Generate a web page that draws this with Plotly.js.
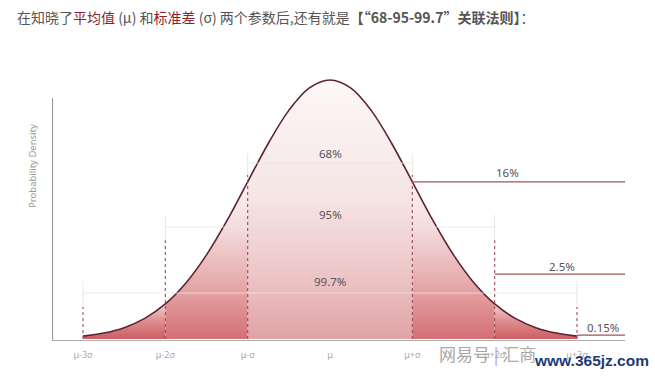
<!DOCTYPE html>
<html>
<head>
<meta charset="utf-8">
<script src="https://cdn.plot.ly/plotly-3.0.1.min.js"></script>
<style>html,body{margin:0;padding:0;background:#fff;}#chart{width:655px;height:376px;}</style>
</head>
<body>
<div id="chart"></div>
<script>
// ---- data ----
const xSigma = [-3,-2.75,-2.5,-2.25,-2,-1.75,-1.5,-1.25,-1,-0.75,-0.5,-0.25,0,0.25,0.5,0.75,1,1.25,1.5,1.75,2,2.25,2.5,2.75,3];
const density = [0.0044,0.0091,0.0175,0.0317,0.0540,0.0863,0.1295,0.1826,0.2420,0.3011,0.3521,0.3867,0.3989,0.3867,0.3521,0.3011,0.2420,0.1826,0.1295,0.0863,0.0540,0.0317,0.0175,0.0091,0.0044];
const tickVals = [-3,-2,-1,0,1,2,3];
const tickText = ['μ-3σ','μ-2σ','μ-σ','μ','μ+σ','μ+2σ','μ+3σ'];
const bandSigma = [1,2,3];
const bandLabels = ['68%','95%','99.7%'];
const bandLabelY = [0.286,0.191,0.0893];
const bandBracketY = [0.271,0.1725,0.0708];
const bandBracketTop = [0.286,0.191,0.0893];
const dashTop = [0.2526,0.152,0.0493];
const tailLabels = ['16%','2.5%','0.15%'];
const tailLineY = [0.242,0.100,0.006];
const tailLabelY = [0.256,0.111,0.017];
const tailLabelX = [2.16,2.82,3.31];

// ---- styles ----
const XR = [-3.3765, 3.583];
const YR = [-0.00154, 0.4143];
const grads = {
  tail2: {top:0.055, cs:[[0,'#cc5d62'],[0.5,'#dd8d90'],[1,'#f3d6d7']]},
  tail1: {top:0.245, cs:[[0,'#d46f73'],[0.35,'#e6aaac'],[0.7,'#f4dcdc'],[1,'#fcf3f3']]},
  center:{top:0.40, cs:[[0,'#e0a3a6'],[0.25,'#edc6c7'],[0.55,'#f6e5e5'],[1,'#fdf8f8']]}
};
function idx(v){ return xSigma.indexOf(v); }
function seg(a,b){ const i=idx(a), j=idx(b); return {x:xSigma.slice(i,j+1), y:density.slice(i,j+1)}; }
const segments = [[-3,-2,'tail2'],[-2,-1,'tail1'],[-1,1,'center'],[1,2,'tail1'],[2,3,'tail2']];
const traces = segments.map(([a,b,k]) => {
  const s = seg(a,b); const g = grads[k];
  return {x:s.x, y:s.y, type:'scatter', mode:'lines', line:{width:0, shape:'spline'},
    fill:'tozeroy', fillcolor:g.cs[1][1],
    fillgradient:{type:'vertical', start:0, stop:g.top, colorscale:g.cs},
    hoverinfo:'skip', showlegend:false};
});
traces.push({x:xSigma, y:density, type:'scatter', mode:'lines',
  line:{color:'#5a2430', width:1.6, shape:'spline'}, hoverinfo:'skip', showlegend:false});

const shapes = [];
const ann = [];
const light = '#e9e6e6';
bandSigma.forEach((s,i) => {
  shapes.push({type:'line', xref:'x', yref:'y', x0:-s, x1:s, y0:bandBracketY[i], y1:bandBracketY[i], line:{color:light, width:1}, layer:'above', opacity:0.8});
  [-s,s].forEach(xv => {
    shapes.push({type:'line', xref:'x', yref:'y', x0:xv, x1:xv, y0:bandBracketTop[i], y1:dashTop[i], line:{color:light, width:1}, layer:'above'});
    shapes.push({type:'line', xref:'x', yref:'y', x0:xv, x1:xv, y0:0, y1:dashTop[i], line:{color:'#9b4a55', width:1.1, dash:'3px,3px'}, layer:'above'});
  });
  ann.push({x:0, y:bandLabelY[i], xref:'x', yref:'y', text:bandLabels[i], showarrow:false, font:{family:'Noto Sans', size:11.5, color:'#555'}});
  shapes.push({type:'line', xref:'x', yref:'y', x0:s, x1:XR[1], y0:tailLineY[i], y1:tailLineY[i], line:{color:'#a4525b', width:1.3}, layer:'above'});
  ann.push({x:tailLabelX[i], y:tailLabelY[i], xref:'x', yref:'y', text:tailLabels[i], showarrow:false, font:{family:'Noto Sans', size:11.5, color:'#555'}});
});
// y axis line
shapes.push({type:'line', xref:'x', yref:'y', x0:XR[0]+0.006, x1:XR[0]+0.006, y0:YR[0], y1:0.371, line:{color:'#9a9a9a', width:1.2}, layer:'above'});

ann.push({xref:'paper', yref:'paper', x:-0.033, y:0.645, xanchor:'center', yanchor:'middle', textangle:-90,
  text:'Probability Density', showarrow:false, font:{family:'Noto Sans', size:9.5, color:'#999'}});
ann.push({xref:'paper', yref:'paper', x:-0.065, y:1.196, xanchor:'left', yanchor:'middle', showarrow:false,
  text:'在知晓了<span style="color:#8d1f2a">平均值</span> (μ) 和<span style="color:#8d1f2a">标准差</span> (σ) 两个参数后,还有就是<b>【“68-95-99.7”关联法则】</b>：',
  font:{family:'Noto Sans CJK SC', size:14, color:'#555'}});
// watermark
ann.push({xref:'paper', yref:'paper', x:0.672, y:-0.05, xanchor:'left', yanchor:'middle', showarrow:false,
  text:'网易号 | 汇商', font:{family:'Noto Sans CJK SC', size:17, color:'#a8a8a8'}});
ann.push({xref:'paper', yref:'paper', x:0.838, y:-0.075, xanchor:'left', yanchor:'middle', showarrow:false,
  text:'<b>www.365jz.com</b>', font:{family:'Liberation Sans', size:15.5, color:'#1e3a78'}});

const layout = {
  width:655, height:376, margin:{l:52, r:30, t:70, b:36},
  paper_bgcolor:'#fff', plot_bgcolor:'#fff',
  xaxis:{range:XR, showline:true, linecolor:'#aaa', linewidth:1, showgrid:false, zeroline:false,
    tickvals:tickVals, ticktext:tickText, ticks:'', ticklabelstandoff:6,
    tickfont:{family:'Noto Sans', size:9, color:'#aaa'}, fixedrange:true},
  yaxis:{range:YR, showline:false, showgrid:false, zeroline:false, showticklabels:false, ticks:'', fixedrange:true},
  shapes:shapes, annotations:ann, showlegend:false
};
Plotly.newPlot('chart', traces, layout, {displayModeBar:false, staticPlot:true});
</script>
</body>
</html>
